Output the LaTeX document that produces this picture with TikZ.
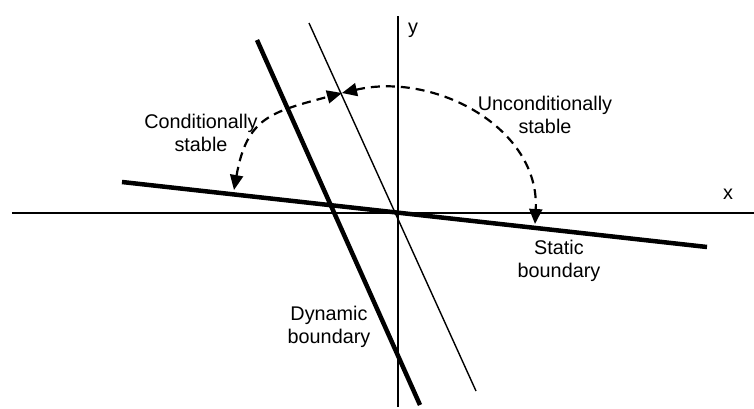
\documentclass[tikz,border=0pt]{standalone}
\usepackage{fontspec}
\setmainfont{Liberation Sans}
\usetikzlibrary{arrows.meta,positioning}
\tikzset{
  bound/.style={line width=4.5pt},
  slim/.style={line width=1.4pt},
  axis/.style={line width=1.2pt},
  swing/.style={line width=2.2pt, dash pattern=on 9pt off 6pt, {Triangle[length=15pt,width=13pt]}-{Triangle[length=15pt,width=13pt]}},
  lbl/.style={align=center, font=\fontsize{19.8}{23}\selectfont, inner sep=0pt}
}
\begin{document}
\begin{tikzpicture}[x=1pt,y=1pt]
\useasboundingbox (-398,-195) rectangle (356,213);
\coordinate (O) at (0,0); \coordinate (W) at (-386,0); \coordinate (E) at (356,0); \coordinate (N) at (0,197); \coordinate (S) at (0,-194);
\coordinate (SL) at (-276,31); \coordinate (SR) at (309,-34);
\coordinate (DT) at (-141,173); \coordinate (DB) at (22,-192);
\coordinate (GT) at (-89,190); \coordinate (GB) at (78,-178);
\coordinate (L) at (-164,23); \coordinate (M) at (-56,120); \coordinate (R) at (137,-11);
% axes and boundaries
\draw[axis] (W) -- (E); \draw[axis] (S) -- (N);
\draw[bound] (SL) -- (SR); \draw[bound] (DT) -- (DB); \draw[slim] (GT) -- (GB);
% stability regions
\draw[swing] (L) to[out=80, in=195, looseness=1.3] (M);
\draw[swing] (M) to[out=13, in=87, looseness=1.05] (R);
\node[lbl] (cond) at (-197,80) {Conditionally\\stable};
\node[lbl] (uncond) at (147,98) {Unconditionally\\stable};
\node[lbl] (stat) at (161,-48) {Static\\boundary};
\node[lbl] (dyn) at (-69,-114) {Dynamic\\boundary};
\node[lbl] (ylab) at (15,183) {y};
\node[lbl] (xlab) at (330,19) {x};
\end{tikzpicture}
\end{document}
